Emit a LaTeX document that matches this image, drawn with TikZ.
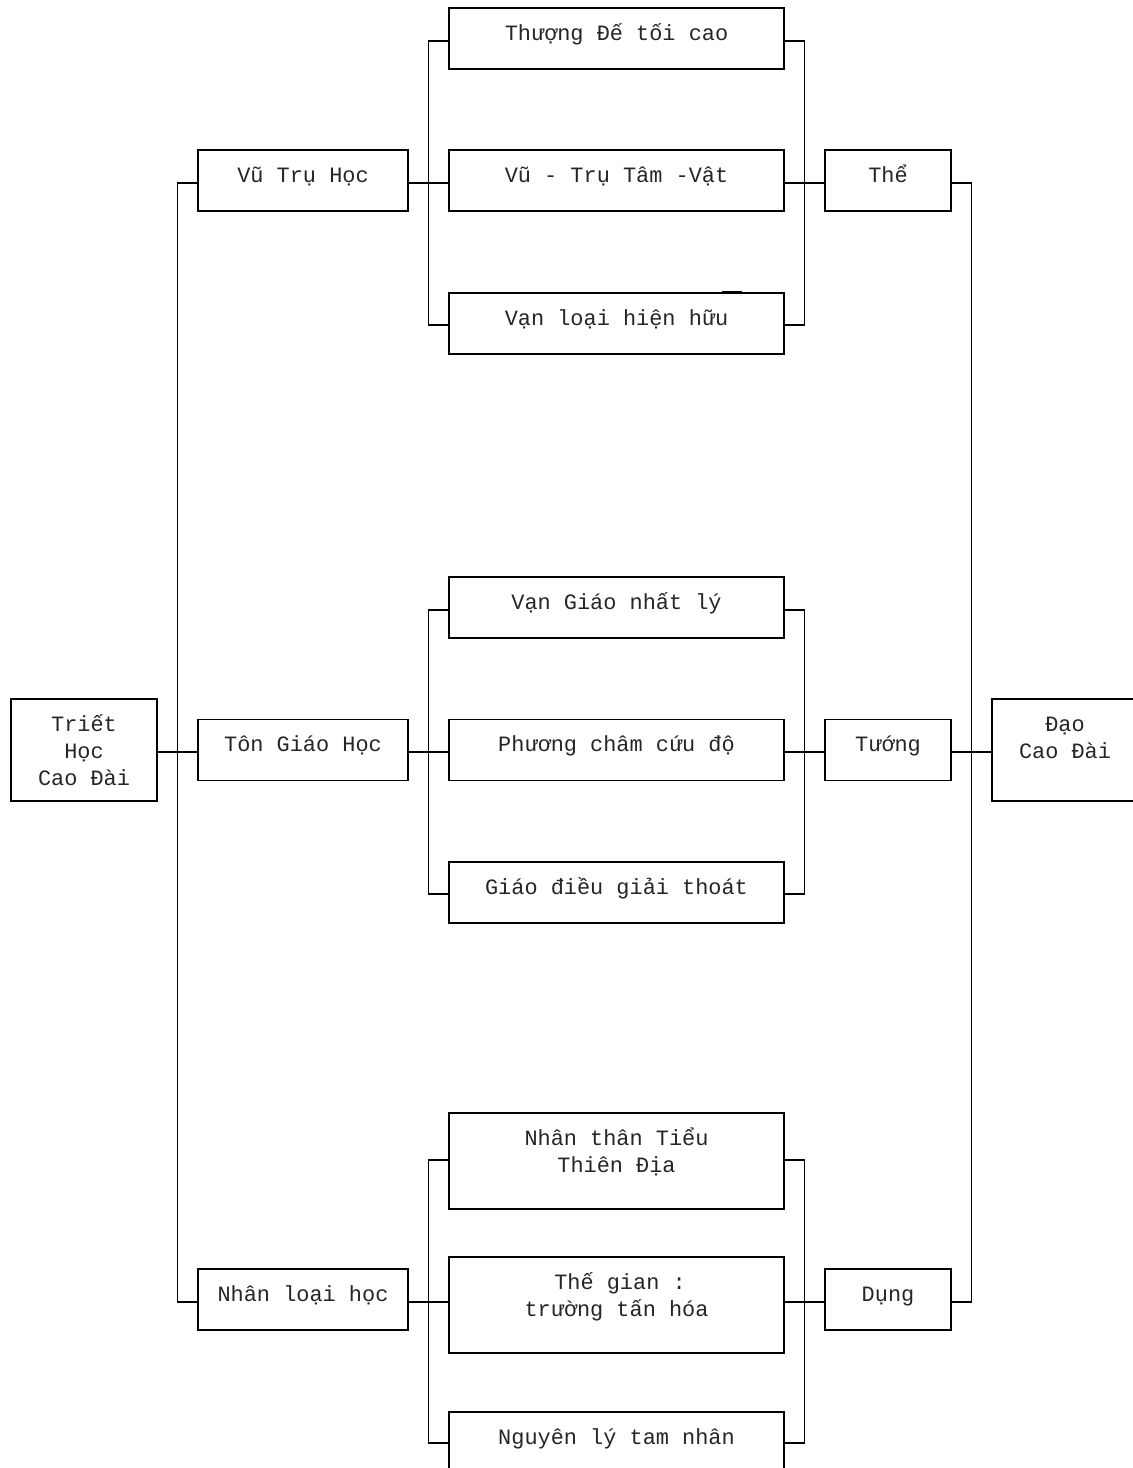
\documentclass[tikz,border=0pt]{standalone}
\usepackage{fontspec}
\newfontfamily\diagfont{Liberation Mono}
\begin{document}
\begin{tikzpicture}[x=1pt,y=-1pt,
  box/.style={draw=black, line width=1.8pt, inner sep=0pt, outer sep=0pt},
  txt/.style={font=\diagfont\fontsize{21.9}{27}\selectfont, anchor=base, inner sep=0pt, text=black!85},
  conn/.style={line width=1.8pt, line join=miter}]
\fill[white] (0,0) rectangle (1133,1468);
\useasboundingbox (0,0) rectangle (1133,1468);

% ---- boxes ----
\node[box, minimum width=146pt, minimum height=102pt] (trie) at (84,750) {};
\node[box, minimum width=210pt, minimum height=61pt] (vu) at (303,180.5) {};
\node[box, minimum width=210pt, minimum height=61pt] (ton) at (303,750) {};
\node[box, minimum width=210pt, minimum height=61pt] (nhan) at (303,1299.5) {};

\node[box, minimum width=335pt, minimum height=61pt] (c1) at (616.5,38.5) {};
\node[box, minimum width=335pt, minimum height=61pt] (c2) at (616.5,180.5) {};
\node[box, minimum width=335pt, minimum height=61pt] (c3) at (616.5,323.5) {};
\node[box, minimum width=335pt, minimum height=61pt] (c4) at (616.5,607.5) {};
\node[box, minimum width=335pt, minimum height=61pt] (c5) at (616.5,750) {};
\node[box, minimum width=335pt, minimum height=61pt] (c6) at (616.5,892.5) {};
\node[box, minimum width=335pt, minimum height=96pt] (c7) at (616.5,1161) {};
\node[box, minimum width=335pt, minimum height=96pt] (c8) at (616.5,1305) {};
\node[box, minimum width=335pt, minimum height=96pt] (c9) at (616.5,1460) {};

\node[box, minimum width=126pt, minimum height=61pt] (the) at (888,180.5) {};
\node[box, minimum width=126pt, minimum height=61pt] (tuong) at (888,750) {};
\node[box, minimum width=126pt, minimum height=61pt] (dung) at (888,1299.5) {};
\node[box, minimum width=146pt, minimum height=102pt] (dao) at (1065,750) {};

% small mark on top of c3
\draw[line width=2.6pt] (722,292.5) -- (742,292.5);

% ---- texts ----
\node[txt] (trie-a) at (84,731) {Triết};
\node[txt] (trie-b) at (84,758) {Học};
\node[txt] (trie-c) at (84,785) {Cao Đài};
\node[txt] (vu-t) at (303,182) {Vũ Trụ Học};
\node[txt] (ton-t) at (303,751.5) {Tôn Giáo Học};
\node[txt] (nhan-t) at (303,1301) {Nhân loại học};

\node[txt] (c1-t) at (616.5,40) {Thượng Đế tối cao};
\node[txt] (c2-t) at (616.5,182) {Vũ - Trụ Tâm -Vật};
\node[txt] (c3-t) at (616.5,325) {Vạn loại hiện hữu};
\node[txt] (c4-t) at (616.5,609) {Vạn Giáo nhất lý};
\node[txt] (c5-t) at (616.5,751.5) {Phương châm cứu độ};
\node[txt] (c6-t) at (616.5,894) {Giáo điều giải thoát};
\node[txt] (c7-a) at (616.5,1145) {Nhân thân Tiểu};
\node[txt] (c7-b) at (616.5,1172) {Thiên Địa};
\node[txt] (c8-a) at (620,1289) {Thế gian :};
\node[txt] (c8-b) at (616.5,1316) {trường tấn hóa};
\node[txt] (c9-t) at (616.5,1444) {Nguyên lý tam nhân};

\node[txt] (the-t) at (888,182) {Thể};
\node[txt] (tuong-t) at (888,751.5) {Tướng};
\node[txt] (dung-t) at (888,1301) {Dụng};
\node[txt] (dao-a) at (1065,731) {Đạo};
\node[txt] (dao-b) at (1065,758) {Cao Đài};

% ---- connectors ----
\draw[conn] (trie.east |- 0,752) -- (ton.west |- 0,752);
\draw[conn] (vu.west |- 0,183) -- ++(-20.5,0) |- (nhan.west |- 0,1302);

\draw[conn] (vu.east |- 0,183) -- (c2.west |- 0,183);
\draw[conn] (c1.west |- 0,41) -- ++(-20.5,0) |- (c3.west |- 0,325);
\draw[conn] (c1.east |- 0,41) -- ++(20.5,0) |- (c3.east |- 0,325);
\draw[conn] (c2.east |- 0,183) -- (the.west |- 0,183);

\draw[conn] (ton.east |- 0,752) -- (c5.west |- 0,752);
\draw[conn] (c4.west |- 0,610) -- ++(-20.5,0) |- (c6.west |- 0,894);
\draw[conn] (c4.east |- 0,610) -- ++(20.5,0) |- (c6.east |- 0,894);
\draw[conn] (c5.east |- 0,752) -- (tuong.west |- 0,752);

\draw[conn] (nhan.east |- 0,1302) -- (c8.west |- 0,1302);
\draw[conn] (c7.west |- 0,1160) -- ++(-20.5,0) |- (c9.west |- 0,1443);
\draw[conn] (c7.east |- 0,1160) -- ++(20.5,0) |- (c9.east |- 0,1443);
\draw[conn] (c8.east |- 0,1302) -- (dung.west |- 0,1302);

\draw[conn] (the.east |- 0,183) -- ++(20.5,0) |- (dung.east |- 0,1302);
\draw[conn] (tuong.east |- 0,752) -- (dao.west |- 0,752);
\end{tikzpicture}
\end{document}
